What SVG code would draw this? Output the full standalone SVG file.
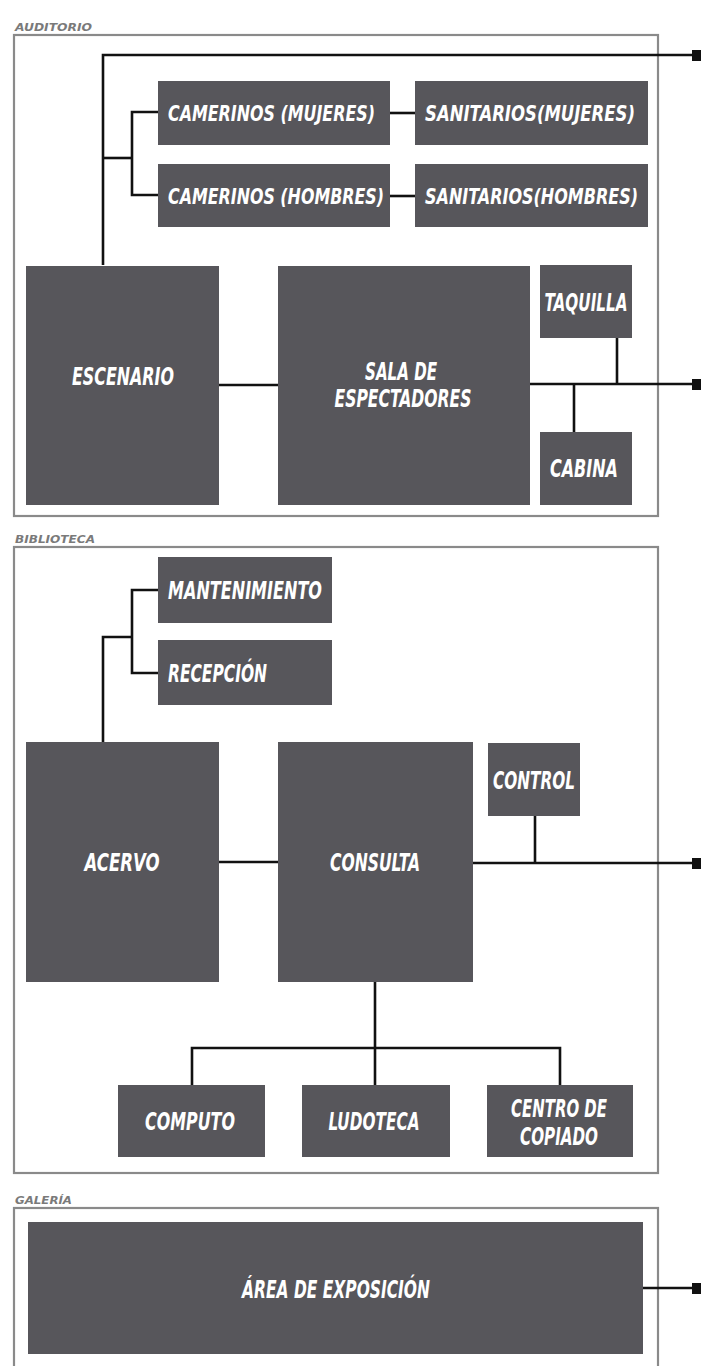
<svg xmlns="http://www.w3.org/2000/svg" width="701" height="1366" viewBox="0 0 701 1366">
<style>
.frame{fill:none;stroke:#8a8a8a;stroke-width:2.2}
.box{fill:#57565b}
.t{fill:#ffffff;font-family:"Liberation Sans Narrow","DejaVu Sans Condensed","Liberation Sans",sans-serif;font-weight:bold;font-style:italic;font-size:25px}
.s{font-size:22px}
.lbl{fill:#7a7a7a;font-family:"Liberation Sans Narrow","DejaVu Sans Condensed","Liberation Sans",sans-serif;font-style:italic;font-weight:bold;font-size:10px}
.c{fill:none;stroke:#111;stroke-width:2.6}
.end{fill:#111}
</style>
<rect width="701" height="1366" fill="#ffffff"/>

<g id="auditorio">
<rect class="frame" x="14" y="35" width="644" height="481"/>
<text class="lbl" x="15" y="31" textLength="77" lengthAdjust="spacingAndGlyphs">AUDITORIO</text>
</g>
<g id="biblioteca">
<rect class="frame" x="14" y="547" width="644" height="626"/>
<text class="lbl" x="15" y="543" textLength="80" lengthAdjust="spacingAndGlyphs">BIBLIOTECA</text>
</g>
<g id="galeria">
<rect class="frame" x="14" y="1208" width="644" height="170"/>
<text class="lbl" x="15" y="1204" textLength="57" lengthAdjust="spacingAndGlyphs">GALERÍA</text>
</g>

<g id="connectors">
<polyline class="c" points="103,265 103,55 695,55"/>
<rect class="end" x="692" y="50" width="9" height="11"/>
<polyline class="c" points="103,158 132,158"/>
<polyline class="c" points="158,112 132,112 132,195 158,195"/>
<line class="c" x1="390" y1="113" x2="415" y2="113"/>
<line class="c" x1="390" y1="196" x2="415" y2="196"/>
<line class="c" x1="219" y1="385" x2="278" y2="385"/>
<line class="c" x1="530" y1="384" x2="695" y2="384"/>
<rect class="end" x="692" y="379" width="9" height="11"/>
<line class="c" x1="617" y1="338" x2="617" y2="384"/>
<line class="c" x1="574" y1="384" x2="574" y2="432"/>

<polyline class="c" points="103,742 103,637 132,637"/>
<polyline class="c" points="158,590 132,590 132,673 158,673"/>
<line class="c" x1="219" y1="862" x2="278" y2="862"/>
<line class="c" x1="473" y1="863" x2="695" y2="863"/>
<rect class="end" x="692" y="858" width="9" height="11"/>
<line class="c" x1="535" y1="816" x2="535" y2="863"/>
<line class="c" x1="375" y1="982" x2="375" y2="1085"/>
<polyline class="c" points="192,1085 192,1048 560,1048 560,1085"/>

<line class="c" x1="643" y1="1288" x2="695" y2="1288"/>
<rect class="end" x="692" y="1283" width="9" height="11"/>
</g>

<g id="camerinos-mujeres">
<rect class="box" x="158" y="81" width="232" height="64"/>
<text class="t s" x="168" y="121" textLength="207" lengthAdjust="spacingAndGlyphs">CAMERINOS (MUJERES)</text>
</g>
<g id="sanitarios-mujeres">
<rect class="box" x="415" y="81" width="233" height="64"/>
<text class="t s" x="425" y="121" textLength="210" lengthAdjust="spacingAndGlyphs">SANITARIOS(MUJERES)</text>
</g>
<g id="camerinos-hombres">
<rect class="box" x="158" y="164" width="232" height="63"/>
<text class="t s" x="168" y="204" textLength="216" lengthAdjust="spacingAndGlyphs">CAMERINOS (HOMBRES)</text>
</g>
<g id="sanitarios-hombres">
<rect class="box" x="415" y="164" width="233" height="63"/>
<text class="t s" x="425" y="204" textLength="213" lengthAdjust="spacingAndGlyphs">SANITARIOS(HOMBRES)</text>
</g>
<g id="escenario">
<rect class="box" x="26" y="266" width="193" height="239"/>
<text class="t" x="123" y="385" text-anchor="middle" textLength="102" lengthAdjust="spacingAndGlyphs">ESCENARIO</text>
</g>
<g id="sala-espectadores">
<rect class="box" x="278" y="266" width="252" height="239"/>
<text class="t" x="401" y="380" text-anchor="middle" textLength="72" lengthAdjust="spacingAndGlyphs">SALA DE</text>
<text class="t" x="403" y="407" text-anchor="middle" textLength="137" lengthAdjust="spacingAndGlyphs">ESPECTADORES</text>
</g>
<g id="taquilla">
<rect class="box" x="540" y="265" width="92" height="73"/>
<text class="t" x="586" y="311" text-anchor="middle" textLength="83" lengthAdjust="spacingAndGlyphs">TAQUILLA</text>
</g>
<g id="cabina">
<rect class="box" x="540" y="432" width="92" height="73"/>
<text class="t" x="584" y="477" text-anchor="middle" textLength="68" lengthAdjust="spacingAndGlyphs">CABINA</text>
</g>

<g id="mantenimiento">
<rect class="box" x="158" y="557" width="174" height="66"/>
<text class="t" x="168" y="599" textLength="154" lengthAdjust="spacingAndGlyphs">MANTENIMIENTO</text>
</g>
<g id="recepcion">
<rect class="box" x="158" y="640" width="174" height="65"/>
<text class="t" x="168" y="682" textLength="99" lengthAdjust="spacingAndGlyphs">RECEPCIÓN</text>
</g>
<g id="acervo">
<rect class="box" x="26" y="742" width="193" height="240"/>
<text class="t" x="122" y="871" text-anchor="middle" textLength="75" lengthAdjust="spacingAndGlyphs">ACERVO</text>
</g>
<g id="consulta">
<rect class="box" x="278" y="742" width="195" height="240"/>
<text class="t" x="375" y="871" text-anchor="middle" textLength="90" lengthAdjust="spacingAndGlyphs">CONSULTA</text>
</g>
<g id="control">
<rect class="box" x="488" y="743" width="92" height="73"/>
<text class="t" x="534" y="789" text-anchor="middle" textLength="82" lengthAdjust="spacingAndGlyphs">CONTROL</text>
</g>
<g id="computo">
<rect class="box" x="118" y="1085" width="147" height="72"/>
<text class="t" x="190" y="1130" text-anchor="middle" textLength="90" lengthAdjust="spacingAndGlyphs">COMPUTO</text>
</g>
<g id="ludoteca">
<rect class="box" x="302" y="1085" width="148" height="72"/>
<text class="t" x="374" y="1130" text-anchor="middle" textLength="91" lengthAdjust="spacingAndGlyphs">LUDOTECA</text>
</g>
<g id="centro-copiado">
<rect class="box" x="487" y="1085" width="146" height="72"/>
<text class="t" x="559" y="1117" text-anchor="middle" textLength="96" lengthAdjust="spacingAndGlyphs">CENTRO DE</text>
<text class="t" x="559" y="1145" text-anchor="middle" textLength="78" lengthAdjust="spacingAndGlyphs">COPIADO</text>
</g>

<g id="area-exposicion">
<rect class="box" x="28" y="1222" width="615" height="132"/>
<text class="t" x="336" y="1298" text-anchor="middle" textLength="188" lengthAdjust="spacingAndGlyphs">ÁREA DE EXPOSICIÓN</text>
</g>
</svg>
